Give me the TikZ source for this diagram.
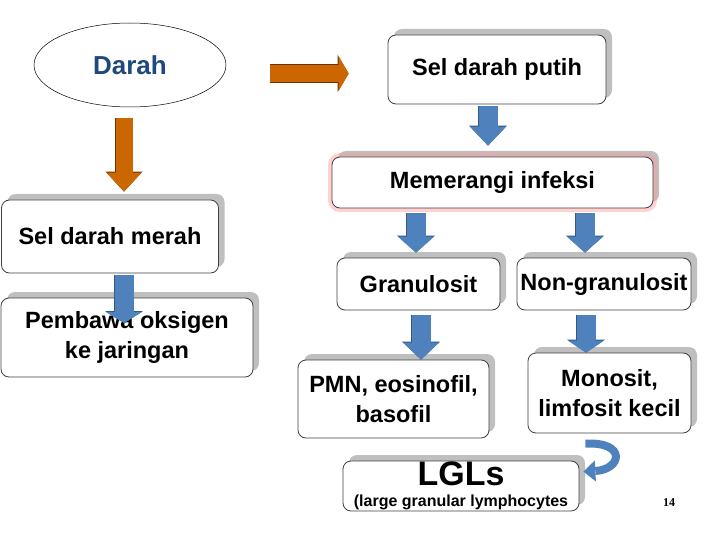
\documentclass[tikz,border=0pt]{standalone}
\usepackage{fontspec}
\setmainfont{Liberation Sans}
\newfontfamily\pagenumfont{Liberation Serif}
\usetikzlibrary{arrows.meta,shapes.geometric,shadows}
\definecolor{arrorange}{RGB}{204,102,0}
\definecolor{arrorangeline}{RGB}{105,52,0}
\definecolor{arrblue}{RGB}{79,129,189}
\definecolor{arrblueline}{RGB}{52,88,132}
\definecolor{darahblue}{RGB}{31,73,125}
\begin{document}
\begin{tikzpicture}[
		x=1pt,y=-1pt,
		every node/.style={font=\bfseries\fontsize{23.5}{30}\selectfont,align=center,inner sep=0pt},
		box/.style={draw=black!75,line width=0.8pt,fill=white,rounded corners=8pt,
				drop shadow={shadow xshift=6pt,shadow yshift=6pt,fill=gray!50,opacity=1}},
		glow/.style={preaction={draw=red!40,line width=8pt,opacity=0.45}},
		orangearrow/.style={arrorange,line width=17pt,
				-{Triangle[width=35pt,length=#1,line width=0pt]},
				preaction={draw=arrorangeline,line width=18.6pt,-{Triangle[width=37pt,length=#1+1pt,line width=0pt]}}},
		orangearrow/.default=19pt,
		bluearrow/.style={arrblue,line width=19pt,
				-{Triangle[width=36pt,length=#1,line width=0pt]},
				preaction={draw=arrblueline,line width=20.4pt,-{Triangle[width=38pt,length=#1+1pt,line width=0pt]}}},
		bluearrow/.default=16pt,
		looparrow/.style={arrblue,line width=8pt,
				-{Triangle[width=21pt,length=12pt,line width=0pt]}}
	]
	\useasboundingbox (0,0) rectangle (720,540);
	\node[ellipse,draw,line width=0.5pt,minimum width=192pt,minimum height=84pt,
		text=darahblue,font=\bfseries\fontsize{26}{30}\selectfont] (darah) at (130,65) {Darah};
	\node[box,minimum width=218pt,minimum height=69pt] (putih) at (497,69.5) {Sel darah putih};
	\node[box,glow,minimum width=321pt,minimum height=51pt] (infeksi) at (492.5,182.5) {Memerangi infeksi};
	\node[box,minimum width=217pt,minimum height=73pt] (merah) at (110,236.5) {Sel darah merah};
	\node[box,minimum width=163pt,minimum height=52pt] (gran) at (418.5,284) {Granulosit};
	\node[box,minimum width=174pt,minimum height=52pt] (nongran) at (604,284) {Non-granulosit};
	\node[box,minimum width=191pt,minimum height=78pt] (pmn) at (393.5,399) {PMN, eosinofil,\\basofil};
	\node[box,minimum width=163pt,minimum height=80pt] (mono) at (609.5,393) {Monosit,\\limfosit kecil};
	\node[box,minimum width=252pt,minimum height=79pt] (pembawa) at (127,337.5) {Pembawa oksigen\\ke jaringan};
	\node[box,minimum width=236pt,minimum height=50pt] (lgl) at (461,486)
	{{\fontsize{34}{34}\selectfont LGLs}\\[-9pt]{\fontsize{16}{20}\selectfont (large granular lymphocytes}};
	\node[font=\pagenumfont\bfseries\fontsize{12}{14}\selectfont] (hal) at (669,503) {14};

	\draw[orangearrow=10pt,shorten <=44pt,shorten >=39pt] (darah.east |- 0,73.5) -- (putih.west |- 0,73.5);
	\draw[orangearrow,shorten <=11pt,shorten >=8pt] (124,0 |- darah.south) -- (124,0 |- merah.north);
	\draw[bluearrow=19pt,shorten <=2pt,shorten >=11pt] (488,0 |- putih.south) -- (488,0 |- infeksi.north);
	\draw[bluearrow,shorten <=5pt,shorten >=5pt] (416,0 |- infeksi.south) -- (416,0 |- gran.north);
	\draw[bluearrow,shorten <=5pt,shorten >=5pt] (585,0 |- infeksi.south) -- (585,0 |- nongran.north);
	\draw[bluearrow=17pt,shorten <=5pt] (421,0 |- gran.south) -- (421,0 |- pmn.north);
	\draw[bluearrow=12pt,shorten <=5pt] (586,0 |- nongran.south) -- (586,0 |- mono.north);
	\draw[bluearrow=11pt,shorten <=2pt,shorten >=14.5pt] (124,0 |- merah.south) -- (124,0 |- pembawa.center);
	\coordinate (loopa) at ([xshift=6pt,yshift=17pt]lgl.north east);
	\coordinate (loopb) at ([xshift=4pt,yshift=-11pt]lgl.north east);
	\draw[looparrow] (loopa) .. controls +(42,-2) and +(38,-2) .. (loopb);
\end{tikzpicture}
\end{document}
